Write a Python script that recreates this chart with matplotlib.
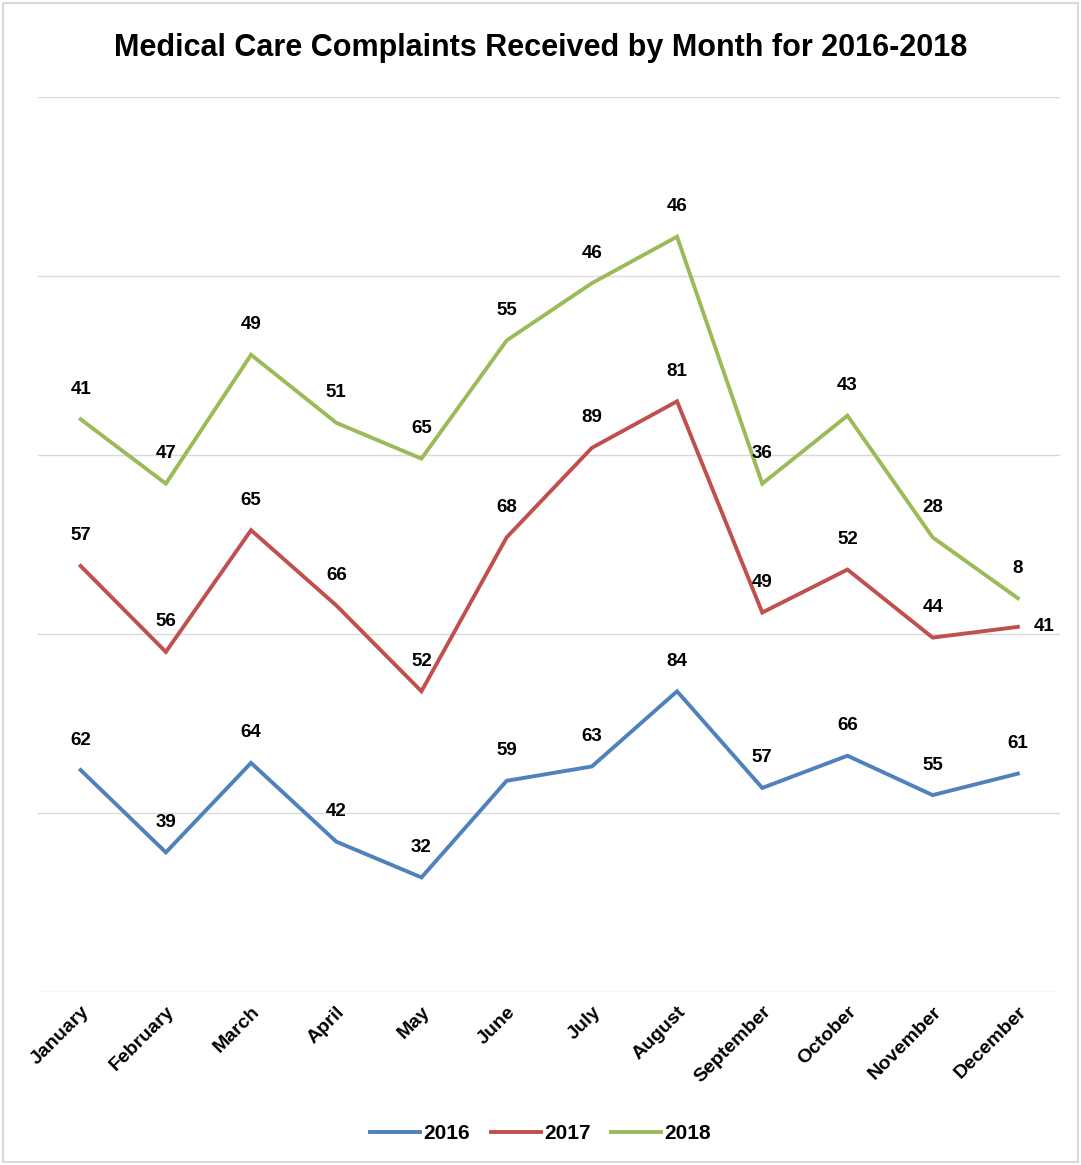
import matplotlib
matplotlib.use("Agg")
import matplotlib.pyplot as plt
import numpy as np
from matplotlib.patches import Rectangle

months = ["January", "February", "March", "April", "May", "June", "July",
          "August", "September", "October", "November", "December"]
series_names = ["2016", "2017", "2018"]
v2016 = [62, 39, 64, 42, 32, 59, 63, 84, 57, 66, 55, 61]
v2017 = [57, 56, 65, 66, 52, 68, 89, 81, 49, 52, 44, 41]
v2018 = [41, 47, 49, 51, 65, 55, 46, 46, 36, 43, 28, 8]
colors = ["#4F81BD", "#C0504D", "#9BBB59"]

plt.rcParams['font.family'] = ['Liberation Sans', 'DejaVu Sans']

fig = plt.figure(figsize=(10.81, 11.65), dpi=100)
ax = fig.add_axes([0.0352, 0.1485, 0.9458, 0.7682])

x = np.arange(len(months))
cum = np.zeros(len(months))
for name, vals, c in zip(series_names, [v2016, v2017, v2018], colors):
    vals = np.array(vals)
    cum = cum + vals
    ax.plot(x, cum, color=c, lw=2.8, label=name, solid_joinstyle='miter', zorder=3)
    for i, (xi, yi, v) in enumerate(zip(x, cum, vals)):
        if name == "2017" and i == len(months) - 1:
            ax.annotate(str(v), (xi, yi), xytext=(26, 0), textcoords='offset pixels',
                        ha='center', va='center', fontsize=13.5, fontweight='bold')
        else:
            ax.annotate(str(v), (xi, yi), xytext=(0, 30), textcoords='offset pixels',
                        ha='center', va='center', fontsize=13.5, fontweight='bold')

ax.set_xlim(-0.5, 11.5)
ax.set_ylim(0, 250)
ax.set_yticks([0, 50, 100, 150, 200, 250])
ax.yaxis.grid(True, color='#D9D9D9', lw=1)
ax.set_axisbelow(True)
ax.tick_params(axis='y', left=False, labelleft=False)
ax.tick_params(axis='x', length=0, pad=8)
ax.set_xticks(x)
ax.set_xticklabels(months, rotation=45, ha='right', rotation_mode='anchor',
                   fontsize=14, fontweight='bold')
for s in ax.spines.values():
    s.set_visible(False)

fig.suptitle("Medical Care Complaints Received by Month for 2016-2018",
             y=0.972, fontsize=22, fontweight='bold')

leg = fig.legend(loc='center', bbox_to_anchor=(0.5, 0.027), ncol=3, frameon=False,
                 prop={'weight': 'bold', 'size': 15},
                 handlelength=2.4, handletextpad=0.15, columnspacing=1.0)

fig.patches.append(Rectangle((0.003, 0.003), 0.994, 0.994, transform=fig.transFigure,
                             fill=False, edgecolor='#D9D9D9', lw=1.5))

fig.savefig("out.png", dpi=100)
